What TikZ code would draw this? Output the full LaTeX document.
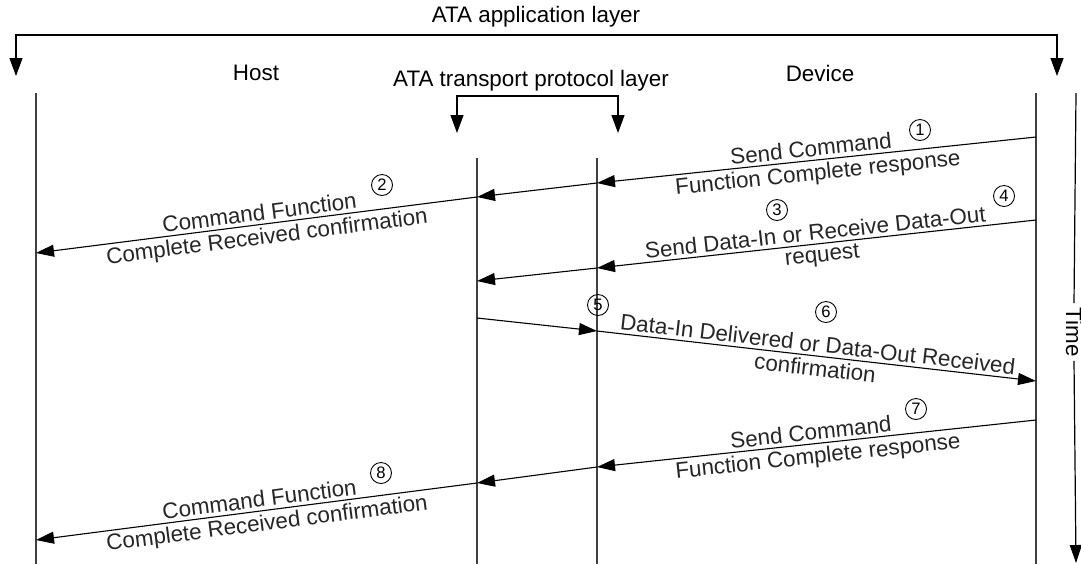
\documentclass[tikz,border=0pt]{standalone}
\usepackage{fontspec}
\setmainfont{Liberation Sans}
\usetikzlibrary{arrows.meta}

\begin{document}
\begin{tikzpicture}[x=0.5pt, y=-0.5pt, font=\fontsize{11.2}{13}\selectfont,
  msg/.style={-{Triangle[length=9pt,width=6pt]}, line width=0.55pt},
  life/.style={line width=0.8pt, black!75},
  lbl/.style={sloped, inner sep=1.6pt, text=black!85},
  num/.style={draw, circle, inner sep=0pt, minimum size=10.5pt, line width=0.45pt, font=\fontsize{8.3}{9}\selectfont}]
\useasboundingbox (0,0) rectangle (1081,564);

% layer titles and brackets
\node (app) at (536,17) {ATA application layer};
\node (host) at (256,73) {Host};
\node (dev) at (820,73) {Device};
\node (tpl) at (531,81) {ATA transport protocol layer};
\coordinate (appL) at (16,76);
\coordinate (appR) at (1057,76);
\draw[{Triangle[length=9pt,width=6.5pt]}-{Triangle[length=9pt,width=6.5pt]}, line width=0.55pt]
  (appL) -- ++(0,-41) -| (appR);
\coordinate (tpL) at (457,133);
\coordinate (tpR) at (618,133);
\draw[{Triangle[length=9pt,width=6.5pt]}-{Triangle[length=9pt,width=6.5pt]}, line width=0.55pt]
  (tpL) -- ++(0,-37) -| (tpR);

% lifelines
\draw[life] (36,93) coordinate (hT) -- (36,564) coordinate (hB);
\draw[life] (477,158) coordinate (lT) -- (477,564) coordinate (lB);
\draw[life] (597,158) coordinate (rT) -- (597,564) coordinate (rB);
\draw[life] (1036,93) coordinate (dT) -- (1036,564) coordinate (dB);

% time axis
\coordinate (tT) at (1076,93);
\coordinate (tB) at (1076,563);
\node[rotate=-90, inner sep=2pt] (time) at (1074,332) {Time};
\draw[line width=0.6pt] (tT) -- (time.west);
\draw[msg, line width=0.6pt] (time.east) -- (tB);

% points on the lifelines
\coordinate (d1) at (1036,137); \coordinate (r1) at (597,183);
\coordinate (l2) at (477,197);  \coordinate (h2) at (36,253);
\coordinate (d3) at (1036,220); \coordinate (r3) at (597,268);
\coordinate (l3) at (477,281);
\coordinate (l5) at (477,318);  \coordinate (r5) at (597,331);
\coordinate (d6) at (1036,381);
\coordinate (d7) at (1036,420); \coordinate (r7) at (597,467);
\coordinate (l8) at (477,483);  \coordinate (h8) at (36,540);

% messages
\draw[msg] (d1) -- node[lbl, above, pos=.51] {Send Command}
  node[lbl, below, pos=.5] {Function Complete response} (r1);
\draw[msg] (r1) -- (l2);
\draw[msg] (l2) -- node[lbl, above, pos=.49] {Command Function}
  node[lbl, below, pos=.48] {Complete Received confirmation} (h2);
\draw[msg] (d3) -- node[lbl, above, pos=.5] {Send Data-In or Receive Data-Out}
  node[lbl, below, pos=.49] {request} (r3);
\draw[msg] (r3) -- (l3);
\draw[msg] (l5) -- (r5);
\draw[msg] (r5) -- node[lbl, above, pos=.5] {Data-In Delivered or Data-Out Received}
  node[lbl, below, pos=.5] {confirmation} (d6);
\draw[msg] (d7) -- node[lbl, above, pos=.51] {Send Command}
  node[lbl, below, pos=.5] {Function Complete response} (r7);
\draw[msg] (r7) -- (l8);
\draw[msg] (l8) -- node[lbl, above, pos=.49] {Command Function}
  node[lbl, below, pos=.48] {Complete Received confirmation} (h8);

% step numbers
\node[num] (n1) at (920,130) {1};
\node[num] (n2) at (382,185) {2};
\node[num] (n3) at (777,210) {3};
\node[num] (n4) at (1004,196) {4};
\node[num] (n5) at (598,305) {5};
\node[num] (n6) at (826,312) {6};
\node[num] (n7) at (916,409) {7};
\node[num] (n8) at (381,473) {8};
\end{tikzpicture}
\end{document}
